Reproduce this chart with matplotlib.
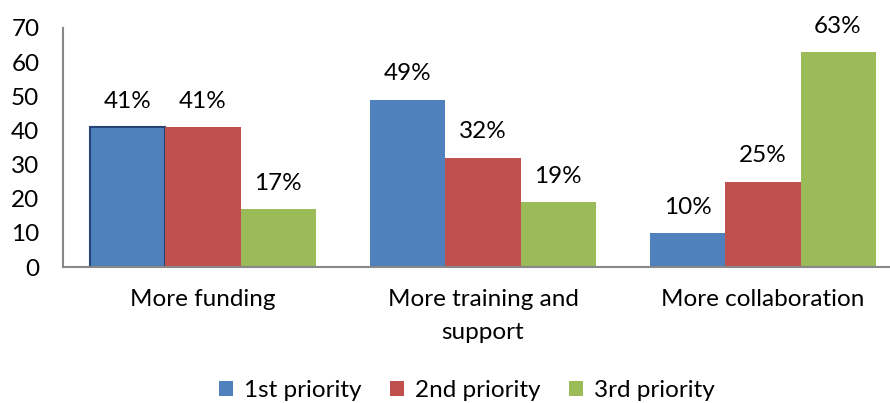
import numpy as np
import matplotlib.pyplot as plt

plt.rcParams['font.family'] = ['Lato', 'DejaVu Sans']

# Data
categories = ["More funding", "More training and\nsupport", "More collaboration"]
series_names = ["1st priority", "2nd priority", "3rd priority"]
first = [41, 49, 10]
second = [41, 32, 25]
third = [17, 19, 63]
colors = ["#4F81BD", "#C0504D", "#9BBB59"]

fig = plt.figure(figsize=(8.9, 4.03), dpi=100)
ax = fig.add_axes([63 / 890, (403 - 267) / 403, 840 / 890, (267 - 28) / 403])

x = np.arange(len(categories))
w = 0.268
fs = 17.5
containers = []
for i, (vals, name, c) in enumerate(zip([first, second, third], series_names, colors)):
    bars = ax.bar(x + (i - 1) * w, vals, w, color=c, label=name, linewidth=0)
    containers.append(bars)
    for b, v in zip(bars, vals):
        ax.annotate(f"{v}%", (b.get_x() + b.get_width() / 2, v), xytext=(0, 11),
                    textcoords="offset points", ha="center", va="bottom", fontsize=fs)

ax.set_xlim(-0.5, 2.5)
ax.set_ylim(0, 70)
ax.set_yticks(range(0, 71, 10))
ax.set_xticks(x)
ax.set_xticklabels(categories, fontsize=fs, linespacing=1.7)
ax.tick_params(axis="both", length=0, labelsize=fs)
ax.tick_params(axis="y", pad=17)
ax.tick_params(axis="x", pad=16)
for s in ["top", "right"]:
    ax.spines[s].set_visible(False)
for s in ["left", "bottom"]:
    ax.spines[s].set_color("#888888")
    ax.spines[s].set_linewidth(1.5)

fig.legend(loc="lower center", bbox_to_anchor=(467 / 890, -0.05), ncol=3, frameon=False,
           fontsize=fs, handlelength=0.6, handleheight=0.6, columnspacing=1.15, handletextpad=0.45)

# selected first bar in the original has a dark outline
containers[0][0].set_edgecolor("#264478")
containers[0][0].set_linewidth(1.5)

fig.savefig("out.png", dpi=100)
